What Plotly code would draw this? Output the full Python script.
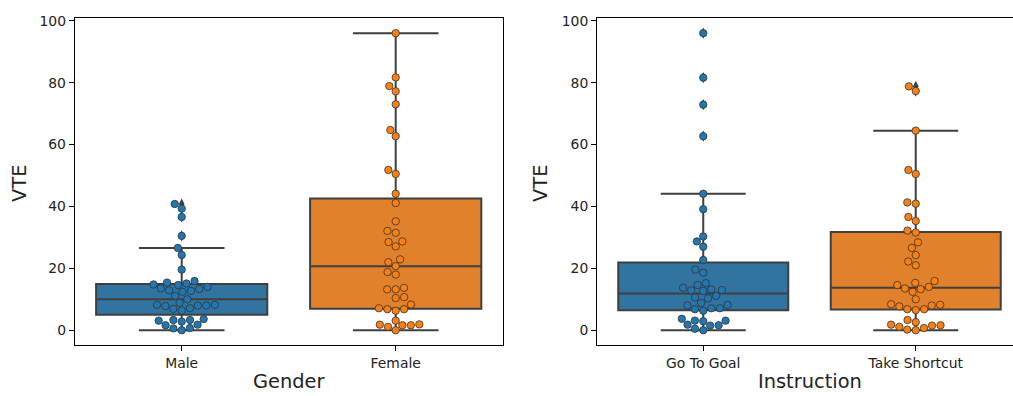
import numpy as np
import plotly.graph_objects as go

# ---------------- data ----------------
gender_categories = ["Male", "Female"]
instruction_categories = ["Go To Goal", "Take Shortcut"]

vte_male = [40.8, 39.3, 36.6, 30.5, 26.6, 24.3, 19.6,
            14.8, 13.5, 12.9, 14.6, 15.1, 15.9, 13.3, 14.0, 15.4, 12.4, 12.7,
            11.1, 10.0, 8.9, 8.2, 7.8, 6.9, 6.4, 7.1, 8.0, 8.0, 8.2,
            3.1, 3.6, 2.8, 3.3, 3.3, 1.6, 0.6, 0.0, 0.7, 1.8]
vte_female = [96.0, 81.7, 78.9, 77.2, 73.0, 64.7, 62.7, 51.8, 50.5,
              44.1, 41.1, 35.2, 31.5, 32.1, 28.5, 27.1, 28.7, 22.0, 20.7, 22.9,
              18.8, 18.0, 13.2, 13.2, 13.7, 10.4, 10.7, 7.1, 6.8, 6.3, 6.8, 8.3,
              3.1, 1.8, 1.1, 0.0, 1.6, 1.6, 1.9]
vte_goal = [96.0, 81.6, 72.9, 62.7, 44.1, 39.1, 30.3, 28.7, 27.0, 22.7, 19.6, 18.6,
            15.2, 14.6, 13.7, 12.9, 12.7, 13.0, 13.2, 10.6, 10.3, 11.1,
            8.8, 8.0, 6.8, 6.3, 7.1, 7.1, 8.2,
            3.1, 3.7, 2.9, 3.1, 1.8, 1.5, 1.6, 0.5, 0.0]
vte_shortcut = [78.8, 77.3, 64.5, 51.8, 50.5, 41.3, 40.9, 36.6, 35.3, 31.6, 32.2,
                28.4, 26.6, 24.3, 22.2, 21.0,
                14.6, 15.3, 15.9, 13.5, 12.4, 13.3, 14.0, 10.0,
                8.2, 8.0, 6.8, 6.5, 6.8, 7.7, 8.4,
                3.3, 2.6, 1.6, 1.1, 0.2, 0.0, 0.7, 1.5, 1.8]

y_ticks = [0, 20, 40, 60, 80, 100]

# ---------------- styling / layout ----------------
W, H = 1013, 396
BOX_FILL = ["#3274a1", "#e1812c"]
POINT_COL = ["#1f77b4", "#ff7f0e"]
LINE_COL = "#3f3f3f"
TXT = "#222222"
TICK_FONT = 13.9
LABEL_FONT = 19.4

Y_RANGE = [-4.8, 100.8]
Y_DOM = [51.7 / H, 383.5 / H]
X1_DOM = [74.7 / W, 502.7 / W]
X1_RANGE = [-0.5, 1.5]
X2_DOM = [597.0 / W, 1.0]
X2_RANGE = [-0.5, 1.5 - 9.0 / 212.7]

PX_Y = (Y_DOM[1] - Y_DOM[0]) * H / (Y_RANGE[1] - Y_RANGE[0])
D_PX = 8.1  # swarm point diameter in pixels


def px_per_x(dom, rng):
    return (dom[1] - dom[0]) * W / (rng[1] - rng[0])


def swarm_offsets(values, ppx, ppy, d):
    vals = np.asarray(values, float)
    order = np.argsort(vals, kind="stable")
    placed = []
    offs = np.zeros(len(vals))
    for idx in order:
        y = vals[idx] * ppy
        nb = [(xj, yj) for xj, yj in placed if abs(yj - y) < d]
        cands = [0.0]
        left_first = True
        for xj, yj in nb:
            dy = y - yj
            dx = np.sqrt(max(d * d - dy * dy, 0.0)) * 1.05
            cl, cr = xj - dx, xj + dx
            cands.extend([cl, cr] if left_first else [cr, cl])
            left_first = not left_first
        cands = sorted(cands, key=abs)
        x = cands[0]
        for c in cands:
            if all((c - xj) ** 2 + (y - yj) ** 2 >= d * d * 0.999 for xj, yj in nb):
                x = c
                break
        placed.append((x, y))
        offs[idx] = x / ppx
    return offs


def box_stats(values):
    v = np.sort(np.asarray(values, float))
    q1, med, q3 = np.percentile(v, [25, 50, 75])
    iqr = q3 - q1
    lo = v[v >= q1 - 1.5 * iqr].min()
    hi = v[v <= q3 + 1.5 * iqr].max()
    fl = v[(v < lo) | (v > hi)]
    return q1, med, q3, lo, hi, fl


fig = go.Figure()

panels = [
    ("x", "y", X1_DOM, X1_RANGE, [vte_male, vte_female]),
    ("x2", "y2", X2_DOM, X2_RANGE, [vte_goal, vte_shortcut]),
]

for xa, ya, dom, rng, groups in panels:
    ppx = px_per_x(dom, rng)
    for i, vals in enumerate(groups):
        q1, med, q3, lo, hi, fl = box_stats(vals)
        fig.add_trace(go.Box(
            x=[i], q1=[q1], median=[med], q3=[q3], lowerfence=[lo], upperfence=[hi],
            width=0.8, whiskerwidth=0.5, fillcolor=BOX_FILL[i],
            line=dict(color=LINE_COL, width=2), boxpoints=False,
            xaxis=xa, yaxis=ya, showlegend=False, hoverinfo="skip"))
        if len(fl):
            fig.add_trace(go.Scatter(
                x=[i] * len(fl), y=fl, mode="markers",
                marker=dict(symbol="diamond-tall", size=8, color=LINE_COL),
                xaxis=xa, yaxis=ya, showlegend=False, hoverinfo="skip"))
        offs = swarm_offsets(vals, ppx, PX_Y, D_PX)
        fig.add_trace(go.Scatter(
            x=i + offs, y=vals, mode="markers",
            marker=dict(size=7.4, color=POINT_COL[i],
                        line=dict(color="#333333", width=0.8)),
            xaxis=xa, yaxis=ya, showlegend=False, hoverinfo="skip"))

xcommon = dict(showgrid=False, zeroline=False, showline=True, linecolor="black",
               linewidth=1.1, mirror=True, ticks="outside", ticklen=4.9,
               tickwidth=1.1, tickcolor="black",
               tickfont=dict(family="DejaVu Sans", size=TICK_FONT, color=TXT),
               tickvals=[0, 1], fixedrange=True)
ycommon = dict(showgrid=False, zeroline=False, showline=True, linecolor="black",
               linewidth=1.1, ticks="outside", ticklen=4.9, tickwidth=1.1,
               tickcolor="black", range=Y_RANGE, domain=Y_DOM,
               tickvals=y_ticks, ticktext=[str(t) for t in y_ticks],
               tickfont=dict(family="DejaVu Sans", size=TICK_FONT, color=TXT),
               fixedrange=True)

fig.update_layout(
    width=W, height=H, margin=dict(l=0, r=0, t=0, b=0),
    paper_bgcolor="white", plot_bgcolor="white",
    xaxis=dict(**xcommon, domain=X1_DOM, range=X1_RANGE, ticktext=gender_categories, anchor="y"),
    yaxis=dict(**ycommon, mirror=True, anchor="x"),
    xaxis2=dict(**xcommon, domain=X2_DOM, range=X2_RANGE, ticktext=instruction_categories, anchor="y2"),
    yaxis2=dict(**ycommon, mirror=False, anchor="x2"),
    font=dict(family="DejaVu Sans", color=TXT),
)

lab = dict(family="DejaVu Sans", size=LABEL_FONT, color=TXT)
annos = [
    dict(text="VTE", x=19.7 / W, y=(H - 180) / H, textangle=-90),
    dict(text="VTE", x=540.7 / W, y=(H - 180) / H, textangle=-90),
    dict(text="Gender", x=(X1_DOM[0] + X1_DOM[1]) / 2, y=(H - 381) / H),
    dict(text="Instruction", x=809.6 / W, y=(H - 381) / H),
]
for a in annos:
    fig.add_annotation(xref="paper", yref="paper", showarrow=False,
                       xanchor="center", yanchor="middle", font=lab, **a)

fig.write_html("out.html")
